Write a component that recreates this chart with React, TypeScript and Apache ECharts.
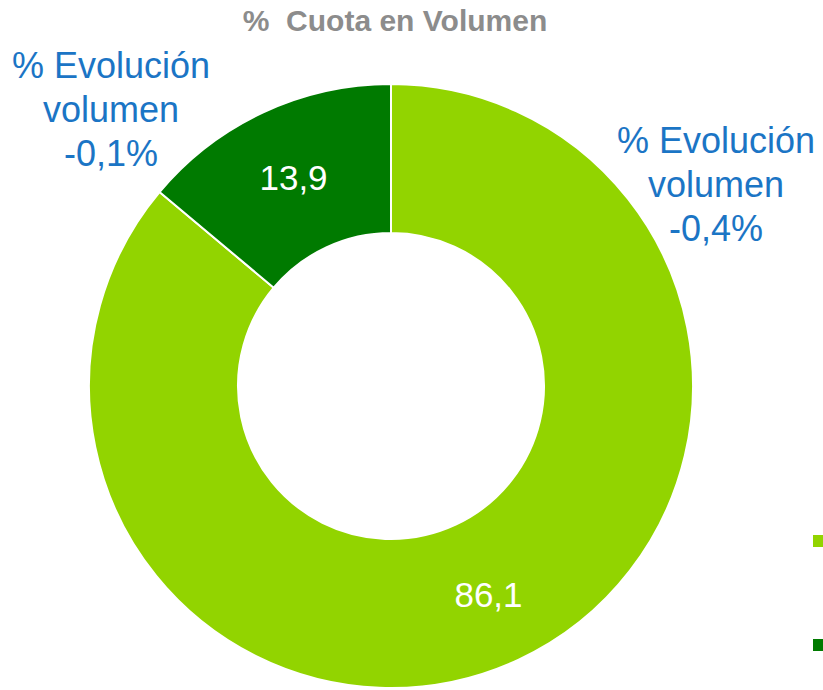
import React, { useEffect, useRef } from "react";
import * as echarts from "echarts";

const categories = ["Segmento principal", "Segmento secundario"];
const shareValues = [86.1, 13.9];
const segmentColors = ["#92D400", "#007A00"];
const titleText = "%  Cuota en Volumen";
const evolutionLabels = ["% Evolución\nvolumen\n-0,4%", "% Evolución\nvolumen\n-0,1%"];

export default function App() {
  const ref = useRef<HTMLDivElement>(null);
  useEffect(() => {
    if (!ref.current) return;
    const chart = echarts.init(ref.current, null, { renderer: "svg" });
    const font = "Arial, 'Liberation Sans', sans-serif";
    chart.setOption({
      animation: false,
      title: {
        text: titleText,
        left: 395,
        textAlign: "center",
        top: 5,
        padding: 0,
        textStyle: { color: "#8C8C8C", fontSize: 30, fontWeight: "bold", fontFamily: font },
      },
      legend: {
        orient: "vertical",
        left: 811,
        top: 533,
        padding: 0,
        itemWidth: 14,
        itemHeight: 14,
        itemGap: 88,
        icon: "rect",
        formatter: () => "",
        textStyle: { fontSize: 14, color: "#595959", fontFamily: font },
        data: categories,
      },
      graphic: [
        {
          type: "text",
          x: 716,
          y: 118,
          style: {
            text: evolutionLabels[0],
            fill: "#1B75C5",
            font: `36px ${font}`,
            textAlign: "center",
            textVerticalAlign: "top",
            lineHeight: 44,
          },
        },
        {
          type: "text",
          x: 111,
          y: 43,
          style: {
            text: evolutionLabels[1],
            fill: "#1B75C5",
            font: `36px ${font}`,
            textAlign: "center",
            textVerticalAlign: "top",
            lineHeight: 44,
          },
        },
      ],
      series: [
        {
          type: "pie",
          center: [391, 386],
          radius: [153, 302],
          startAngle: 90,
          clockwise: true,
          avoidLabelOverlap: false,
          itemStyle: { borderColor: "#FFFFFF", borderWidth: 2 },
          label: {
            show: true,
            position: "inside",
            color: "#FFFFFF",
            fontSize: 35,
            fontFamily: font,
            formatter: (p: any) => String(p.value).replace(".", ","),
          },
          labelLine: { show: false },
          emphasis: { disabled: true },
          data: categories.map((name, i) => ({
            name,
            value: shareValues[i],
            itemStyle: { color: segmentColors[i] },
          })),
        },
      ],
    });
    return () => chart.dispose();
  }, []);
  return (
    <div
      ref={ref}
      style={{ position: "fixed", left: 0, top: 0, width: 823, height: 690, overflow: "hidden", background: "#fff" }}
    />
  );
}
